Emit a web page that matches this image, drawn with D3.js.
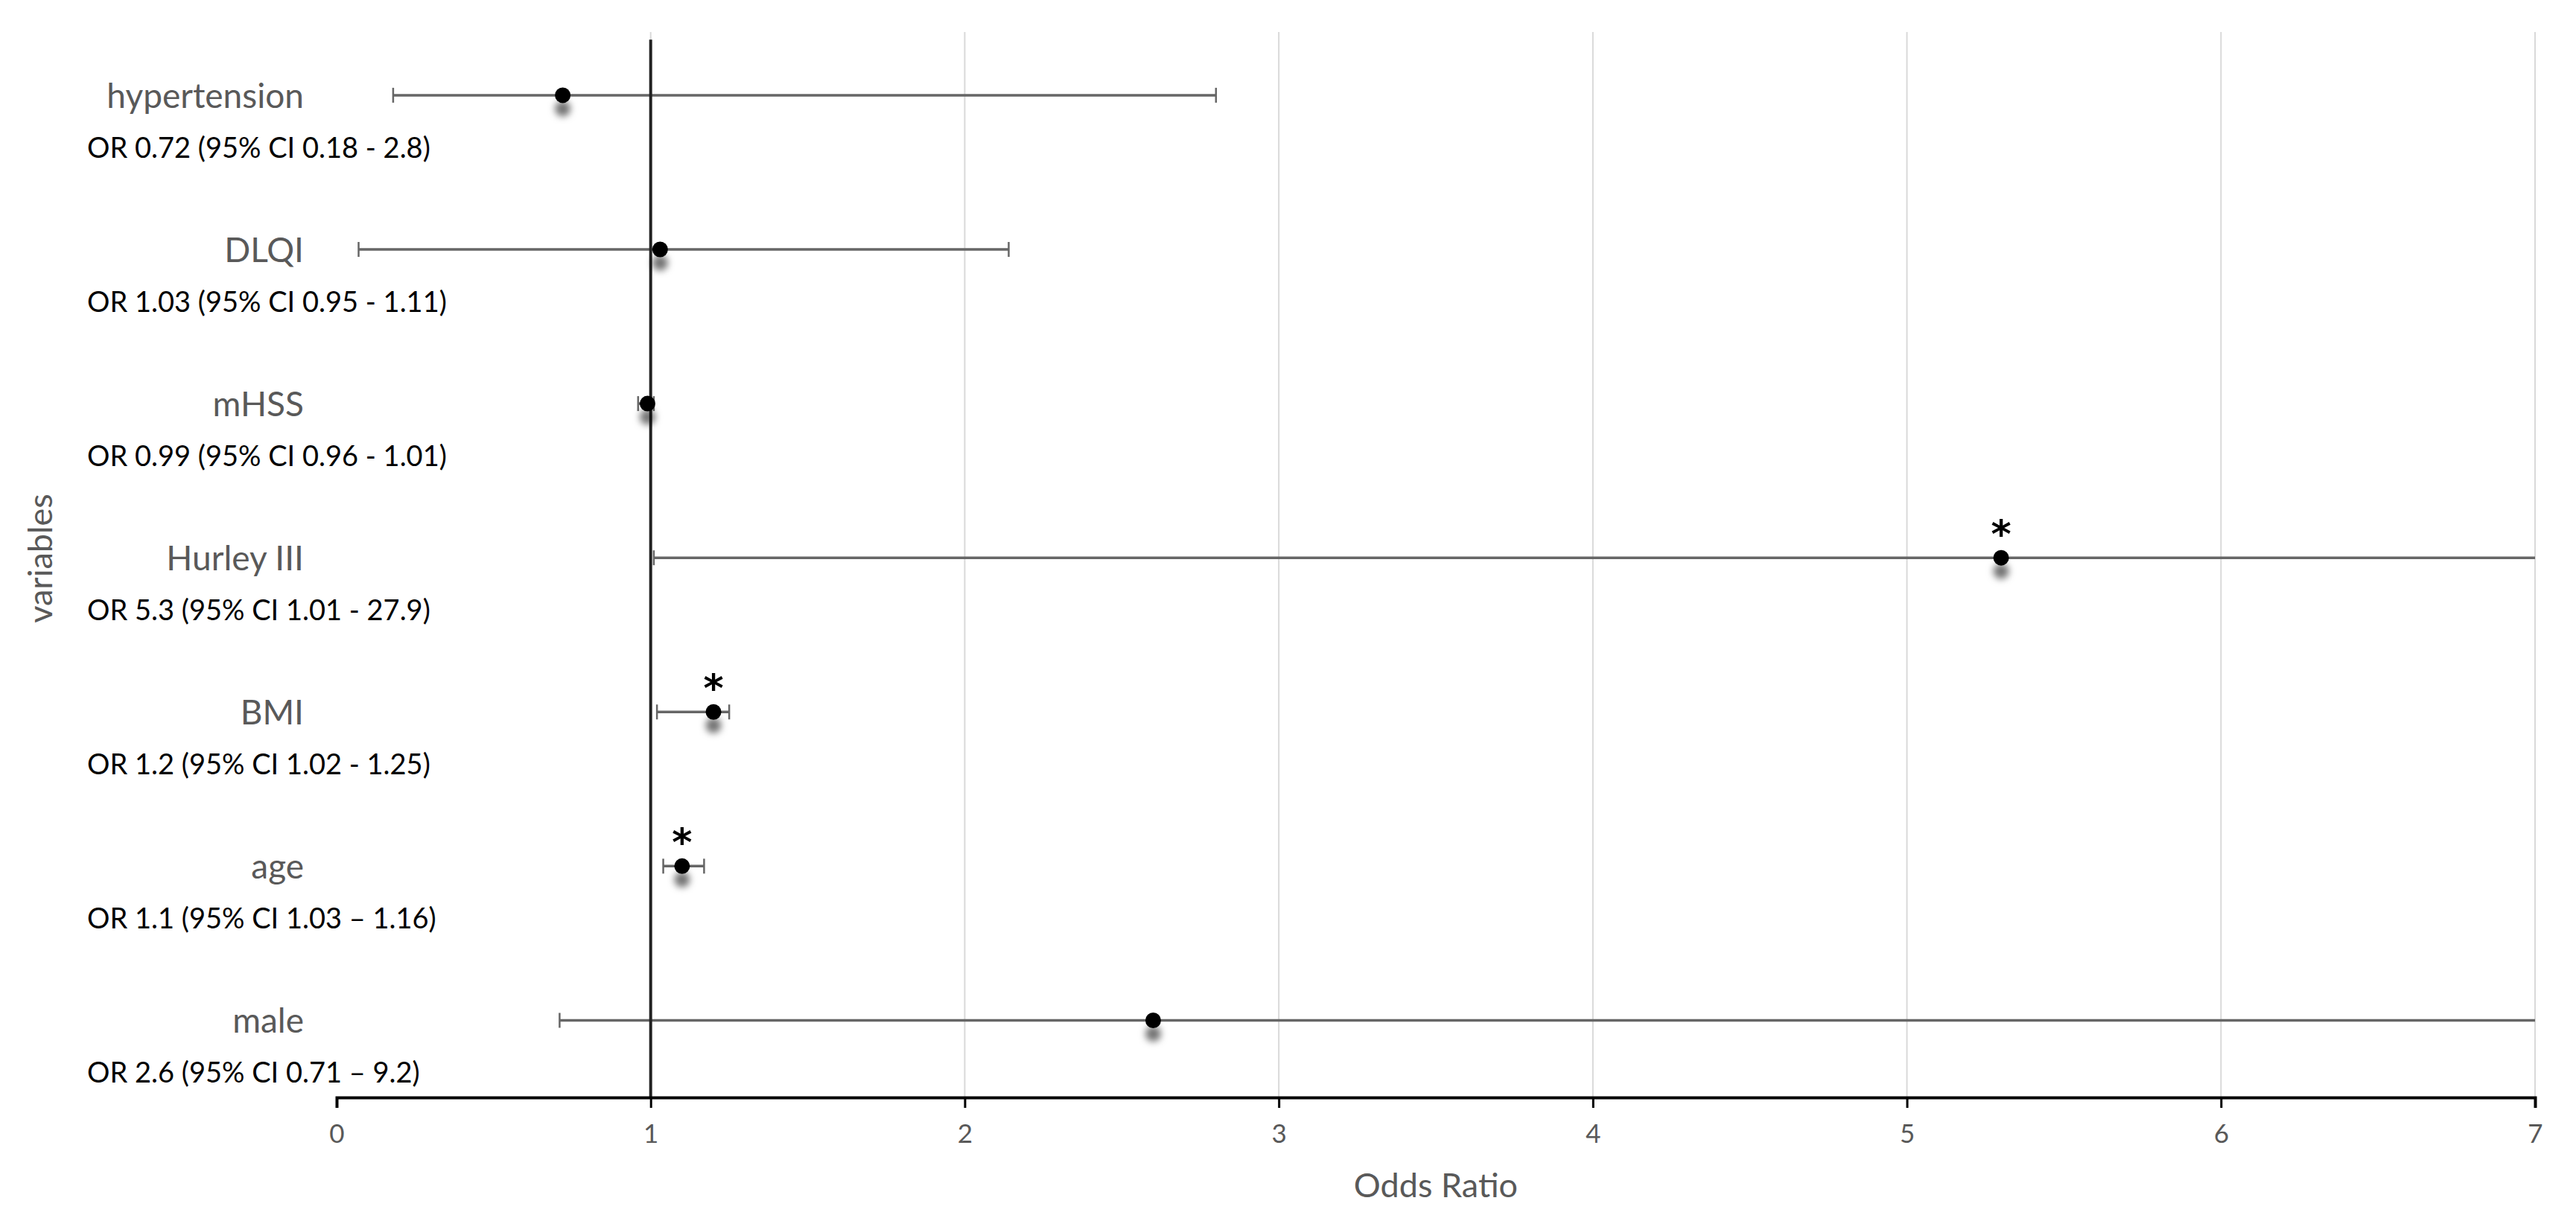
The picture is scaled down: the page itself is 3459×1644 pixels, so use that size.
<!DOCTYPE html>
<html lang="en">
<head>
  <meta charset="UTF-8" />
  <title>Odds ratio forest plot</title>
  <script src="https://d3js.org/d3.v7.min.js"></script>
  <style>
    body {
      margin: 0;
      background: white;
    }
    text {
      font-family: Lato, "Open Sans", sans-serif;
    }
  </style>
</head>
<body>
<svg id="chart"></svg>

<script>
const width = 3459, height = 1644;

// Data (top row first)
const categories = ['hypertension', 'DLQI', 'mHSS', 'Hurley III', 'BMI', 'age', 'male'];
const oddsRatios = [0.72, 1.03, 0.99, 5.3, 1.2, 1.1, 2.6];
// error bars as drawn in the picture
const ciLow = [0.18, 0.07, 0.96, 1.01, 1.02, 1.04, 0.71];
const ciHigh = [2.8, 2.14, 1.01, 27.9, 1.25, 1.17, 9.2];
const orLabels = [
  'OR 0.72 (95% CI 0.18 - 2.8)',
  'OR 1.03 (95% CI 0.95 - 1.11)',
  'OR 0.99 (95% CI 0.96 - 1.01)',
  'OR 5.3 (95% CI 1.01 - 27.9)',
  'OR 1.2 (95% CI 1.02 - 1.25)',
  'OR 1.1 (95% CI 1.03 \u2013 1.16)',
  'OR 2.6 (95% CI 0.71 \u2013 9.2)'
];
const significant = [false, false, false, true, true, true, false];
const xTicks = [0, 1, 2, 3, 4, 5, 6, 7];

const rows = categories.map((c, i) => ({
  name: c,
  pos: categories.length - i,
  or: oddsRatios[i],
  lo: ciLow[i],
  hi: ciHigh[i],
  label: orLabels[i],
  sig: significant[i]
}));

const svg = d3.select("#chart")
  .attr("width", width)
  .attr("height", height);

const x = d3.scaleLinear().domain([0, 7]).range([452, 3404]);
const y = d3.scaleLinear().domain([0.5, 7.41]).range([1474, 43]);

// shadow for the points
const defs = svg.append("defs");
const f = defs.append("filter").attr("id", "shadow")
  .attr("x", "-100%").attr("y", "-100%").attr("width", "300%").attr("height", "400%");
f.append("feDropShadow")
  .attr("dx", 0).attr("dy", 18)
  .attr("stdDeviation", 5)
  .attr("flood-color", "#000")
  .attr("flood-opacity", 0.55);

// gridlines
svg.append("g")
  .selectAll("line")
  .data(xTicks.filter(d => d > 0))
  .enter().append("line")
  .attr("x1", d => x(d)).attr("x2", d => x(d))
  .attr("y1", y(7.41)).attr("y2", y(0.5))
  .attr("stroke", "#d9d9d9")
  .attr("stroke-width", 2);

// error bars
const clip = v => Math.max(0, Math.min(7, v));
const capH = 10;
const bars = svg.append("g")
  .attr("stroke", "#666")
  .attr("stroke-width", 3.5);

bars.selectAll("line.bar")
  .data(rows)
  .enter().append("line")
  .attr("class", "bar")
  .attr("x1", d => x(clip(d.lo)))
  .attr("x2", d => x(clip(d.hi)))
  .attr("y1", d => y(d.pos))
  .attr("y2", d => y(d.pos));

bars.selectAll("line.capLo")
  .data(rows.filter(d => d.lo >= 0))
  .enter().append("line")
  .attr("x1", d => x(d.lo)).attr("x2", d => x(d.lo))
  .attr("y1", d => y(d.pos) - capH).attr("y2", d => y(d.pos) + capH)
  .attr("stroke-width", 2.5);

bars.selectAll("line.capHi")
  .data(rows.filter(d => d.hi <= 7))
  .enter().append("line")
  .attr("x1", d => x(d.hi)).attr("x2", d => x(d.hi))
  .attr("y1", d => y(d.pos) - capH).attr("y2", d => y(d.pos) + capH)
  .attr("stroke-width", 2.5);

// reference line at OR = 1
svg.append("line")
  .attr("x1", x(1)).attr("x2", x(1))
  .attr("y1", y(7.36)).attr("y2", y(0.5))
  .attr("stroke", "#222")
  .attr("stroke-width", 4);

// x axis
const xAxis = d3.axisBottom(x)
  .tickValues(xTicks)
  .tickFormat(d3.format("d"))
  .tickSize(14)
  .tickPadding(22);

const ax = svg.append("g")
  .attr("transform", `translate(0,${y(0.5)})`)
  .call(xAxis);

ax.select(".domain")
  .attr("stroke", "#000")
  .attr("stroke-width", 4);
ax.selectAll(".tick line")
  .attr("stroke", "#000")
  .attr("stroke-width", 3);
ax.selectAll(".tick text")
  .attr("fill", "#595959")
  .style("font-size", "35px");

// points
svg.append("g")
  .selectAll("circle")
  .data(rows)
  .enter().append("circle")
  .attr("cx", d => x(d.or))
  .attr("cy", d => y(d.pos))
  .attr("r", 10.5)
  .attr("fill", "#000")
  .attr("filter", "url(#shadow)");

// significance stars
svg.append("g")
  .selectAll("text")
  .data(rows.filter(d => d.sig))
  .enter().append("text")
  .attr("x", d => x(d.or))
  .attr("y", d => y(d.pos) - 14)
  .attr("text-anchor", "middle")
  .attr("fill", "#000")
  .style("font-family", "'DejaVu Sans', sans-serif")
  .style("font-weight", "bold")
  .style("font-size", "52px")
  .text("*");

// category names
svg.append("g")
  .selectAll("text")
  .data(rows)
  .enter().append("text")
  .attr("x", 408)
  .attr("y", d => y(d.pos) + 17)
  .attr("text-anchor", "end")
  .attr("fill", "#595959")
  .style("font-size", "46px")
  .text(d => d.name);

// OR text under each name
svg.append("g")
  .selectAll("text")
  .data(rows)
  .enter().append("text")
  .attr("x", 117)
  .attr("y", d => y(d.pos) + 84)
  .attr("fill", "#000")
  .style("font-size", "38px")
  .text(d => d.label);

// axis titles
svg.append("text")
  .attr("x", (x(0) + x(7)) / 2)
  .attr("y", 1608)
  .attr("text-anchor", "middle")
  .attr("fill", "#595959")
  .style("font-size", "45px")
  .text("Odds Ratio");

svg.append("text")
  .attr("transform", "translate(70,750) rotate(-90)")
  .attr("text-anchor", "middle")
  .attr("fill", "#595959")
  .style("font-size", "45px")
  .text("variables");
</script>
</body>
</html>
